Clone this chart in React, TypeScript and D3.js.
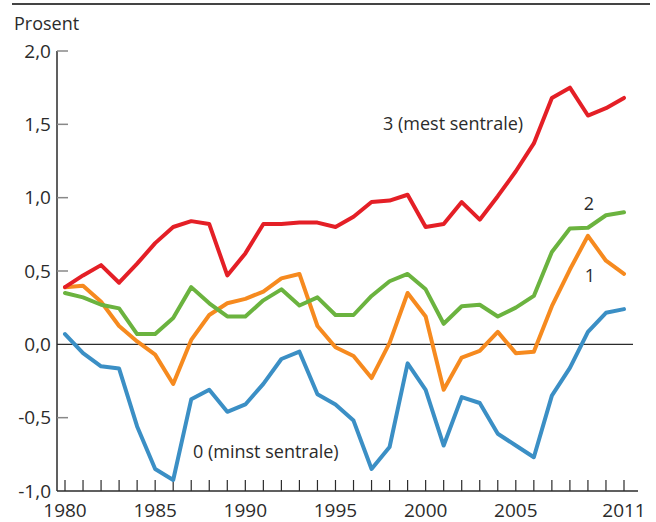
import React from 'react';
import * as d3 from 'd3';

const years = d3.range(1980, 2012);

const mest = [0.39, 0.47, 0.54, 0.42, 0.55, 0.69, 0.8, 0.84, 0.82, 0.47, 0.62, 0.82, 0.82, 0.83, 0.83, 0.8, 0.87, 0.97, 0.98, 1.02, 0.8, 0.82, 0.97, 0.85, 1.01, 1.18, 1.37, 1.68, 1.75, 1.56, 1.61, 1.68];
const to = [0.35, 0.32, 0.27, 0.245, 0.07, 0.07, 0.18, 0.39, 0.28, 0.19, 0.19, 0.3, 0.375, 0.265, 0.32, 0.2, 0.2, 0.33, 0.43, 0.48, 0.375, 0.14, 0.26, 0.27, 0.19, 0.25, 0.33, 0.63, 0.79, 0.795, 0.88, 0.9];
const en = [0.39, 0.4, 0.29, 0.125, 0.02, -0.07, -0.27, 0.03, 0.2, 0.28, 0.31, 0.36, 0.45, 0.48, 0.125, -0.02, -0.08, -0.23, 0.01, 0.35, 0.19, -0.31, -0.09, -0.045, 0.085, -0.06, -0.05, 0.26, 0.51, 0.74, 0.57, 0.48];
const minst = [0.07, -0.06, -0.15, -0.165, -0.56, -0.85, -0.925, -0.375, -0.31, -0.46, -0.41, -0.27, -0.1, -0.05, -0.34, -0.41, -0.52, -0.85, -0.7, -0.13, -0.31, -0.69, -0.36, -0.4, -0.61, -0.69, -0.77, -0.35, -0.16, 0.085, 0.215, 0.24];

const yTicks = [-1, -0.5, 0, 0.5, 1, 1.5, 2];
const xLabels = [1980, 1985, 1990, 1995, 2000, 2005, 2011];

const series = [
  { name: '0 (minst sentrale)', values: minst, color: '#3b8fc5' },
  { name: '1', values: en, color: '#f68a1f' },
  { name: '2', values: to, color: '#6bb33f' },
  { name: '3 (mest sentrale)', values: mest, color: '#e41f26' },
];

const font = '"Open Sans", sans-serif';
const ink = '#2b2b2b';

export default function App() {
  const width = 656;
  const height = 522;

  const x = d3.scaleLinear().domain([1980, 2011]).range([65, 624]);
  const y = d3.scaleLinear().domain([-1, 2]).range([491, 51]);

  const line = d3
    .line<number>()
    .x((_, i) => x(years[i]))
    .y(d => y(d));

  const fmt = (v: number) => d3.format('.1f')(v).replace('.', ',').replace('−', '-');

  return (
    <svg
      width={width}
      height={height}
      style={{ position: 'absolute', left: 0, top: 0, background: '#fff' }}
      fontFamily={font}
    >
      {/* top rule */}
      <line x1={12} x2={650} y1={4} y2={4} stroke="#444" strokeWidth={2} />

      <text x={14} y={30} fontSize={18} fill={ink}>Prosent</text>

      {/* y axis */}
      <line x1={57} x2={57} y1={y(2)} y2={y(-1)} stroke={ink} strokeWidth={1.5} />
      {yTicks.map(t => (
        <g key={t}>
          {t !== 0 && t !== -1 && (
            <line x1={57} x2={68} y1={y(t)} y2={y(t)} stroke="#888" strokeWidth={1.5} />
          )}
          <text x={51} y={y(t)} dy="0.35em" textAnchor="end" fontSize={19} fill={ink}>
            {fmt(t)}
          </text>
        </g>
      ))}

      {/* zero line */}
      <line x1={57} x2={633} y1={y(0)} y2={y(0)} stroke={ink} strokeWidth={1.2} />

      {/* x axis */}
      <line x1={57} x2={638} y1={y(-1)} y2={y(-1)} stroke={ink} strokeWidth={1.5} />
      {years.map(yr => (
        <line key={yr} x1={x(yr)} x2={x(yr)} y1={y(-1)} y2={y(-1) - 11} stroke={ink} strokeWidth={1.2} />
      ))}
      {xLabels.map(yr => (
        <text key={yr} x={x(yr)} y={517} textAnchor="middle" fontSize={19} fill={ink}>
          {yr}
        </text>
      ))}

      {/* lines */}
      {series.map(s => (
        <path
          key={s.name}
          d={line(s.values) ?? ''}
          fill="none"
          stroke={s.color}
          strokeWidth={4}
          strokeLinejoin="round"
          strokeLinecap="round"
        />
      ))}

      {/* series labels */}
      <text x={383} y={130} fontSize={18} fill={ink}>3 (mest sentrale)</text>
      <text x={589} y={210} fontSize={18} fill={ink} textAnchor="middle">2</text>
      <text x={590} y={282} fontSize={18} fill={ink} textAnchor="middle">1</text>
      <text x={193} y={458} fontSize={18} fill={ink}>0 (minst sentrale)</text>
    </svg>
  );
}
